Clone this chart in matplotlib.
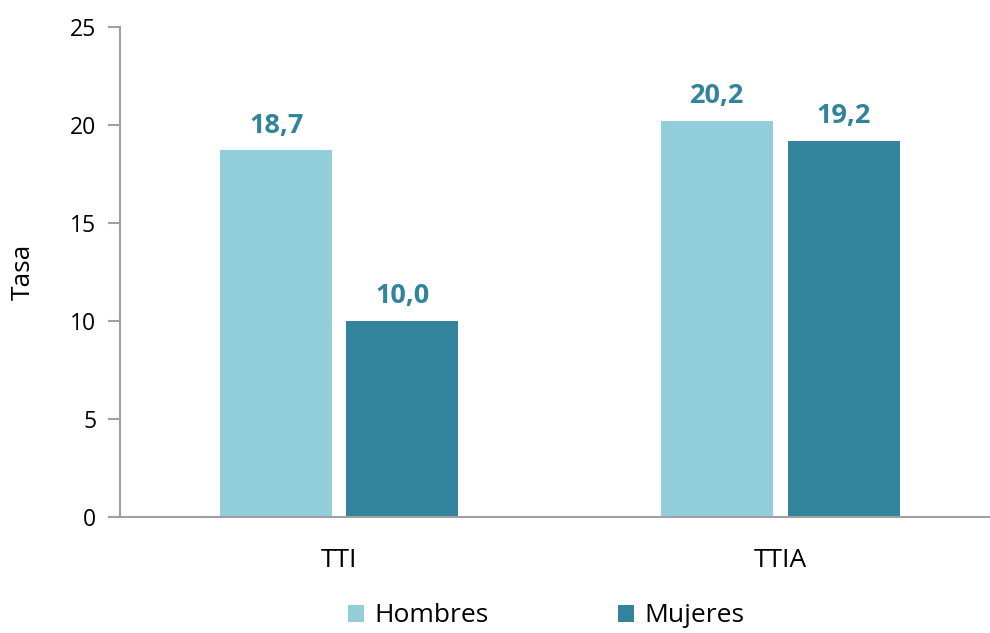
import matplotlib
matplotlib.use('Agg')
import matplotlib.pyplot as plt
import numpy as np

categories = ['TTI', 'TTIA']
hombres = [18.7, 20.2]
mujeres = [10.0, 19.2]
series_names = ['Hombres', 'Mujeres']
yticks = [0, 5, 10, 15, 20, 25]

C_LIGHT = '#92CDDC'
C_DARK = '#31849B'
AXIS_C = '#A0A0A0'

plt.rcParams['font.family'] = ['Open Sans', 'DejaVu Sans']

fig = plt.figure(figsize=(9.9, 6.33), dpi=100)
ax = fig.add_axes([120 / 990, 1 - 517 / 633, 1 - 120 / 990, (517 - 27) / 633])

x = np.arange(len(categories))
w = 0.254
off = 0.143
b1 = ax.bar(x - off, hombres, w, color=C_LIGHT, label=series_names[0])
b2 = ax.bar(x + off, mujeres, w, color=C_DARK, label=series_names[1])

for bars, vals in ((b1, hombres), (b2, mujeres)):
    for r, v in zip(bars, vals):
        ax.text(r.get_x() + r.get_width() / 2, v + 0.6, f'{v:.1f}'.replace('.', ','),
                ha='center', va='bottom', fontsize=19.5, fontweight='bold', color=C_DARK)

ax.set_xlim(-0.497, 1.475)
ax.set_ylim(0, 25)
ax.set_yticks(yticks)
ax.set_xticks(x)
ax.set_xticklabels(categories)
ax.tick_params(axis='y', length=9, width=1.5, color=AXIS_C, labelsize=16.5, pad=8)
ax.tick_params(axis='x', length=0, labelsize=19, pad=22)

for s in ('top', 'right'):
    ax.spines[s].set_visible(False)
for s in ('left', 'bottom'):
    ax.spines[s].set_color(AXIS_C)
    ax.spines[s].set_linewidth(1.5)
ax.spines['bottom'].set_bounds(-0.497 - 9 / 441, 1.475)
ax.spines['bottom'].set_clip_on(False)

ax.set_ylabel('Tasa', fontsize=19, labelpad=25)

leg = fig.legend(loc='center', bbox_to_anchor=(0.552, 1 - 616 / 633), ncol=2,
                 frameon=False, fontsize=19, handlelength=0.6, handleheight=0.6,
                 handletextpad=0.4, columnspacing=4.9)

fig.savefig('out.png', dpi=100)
